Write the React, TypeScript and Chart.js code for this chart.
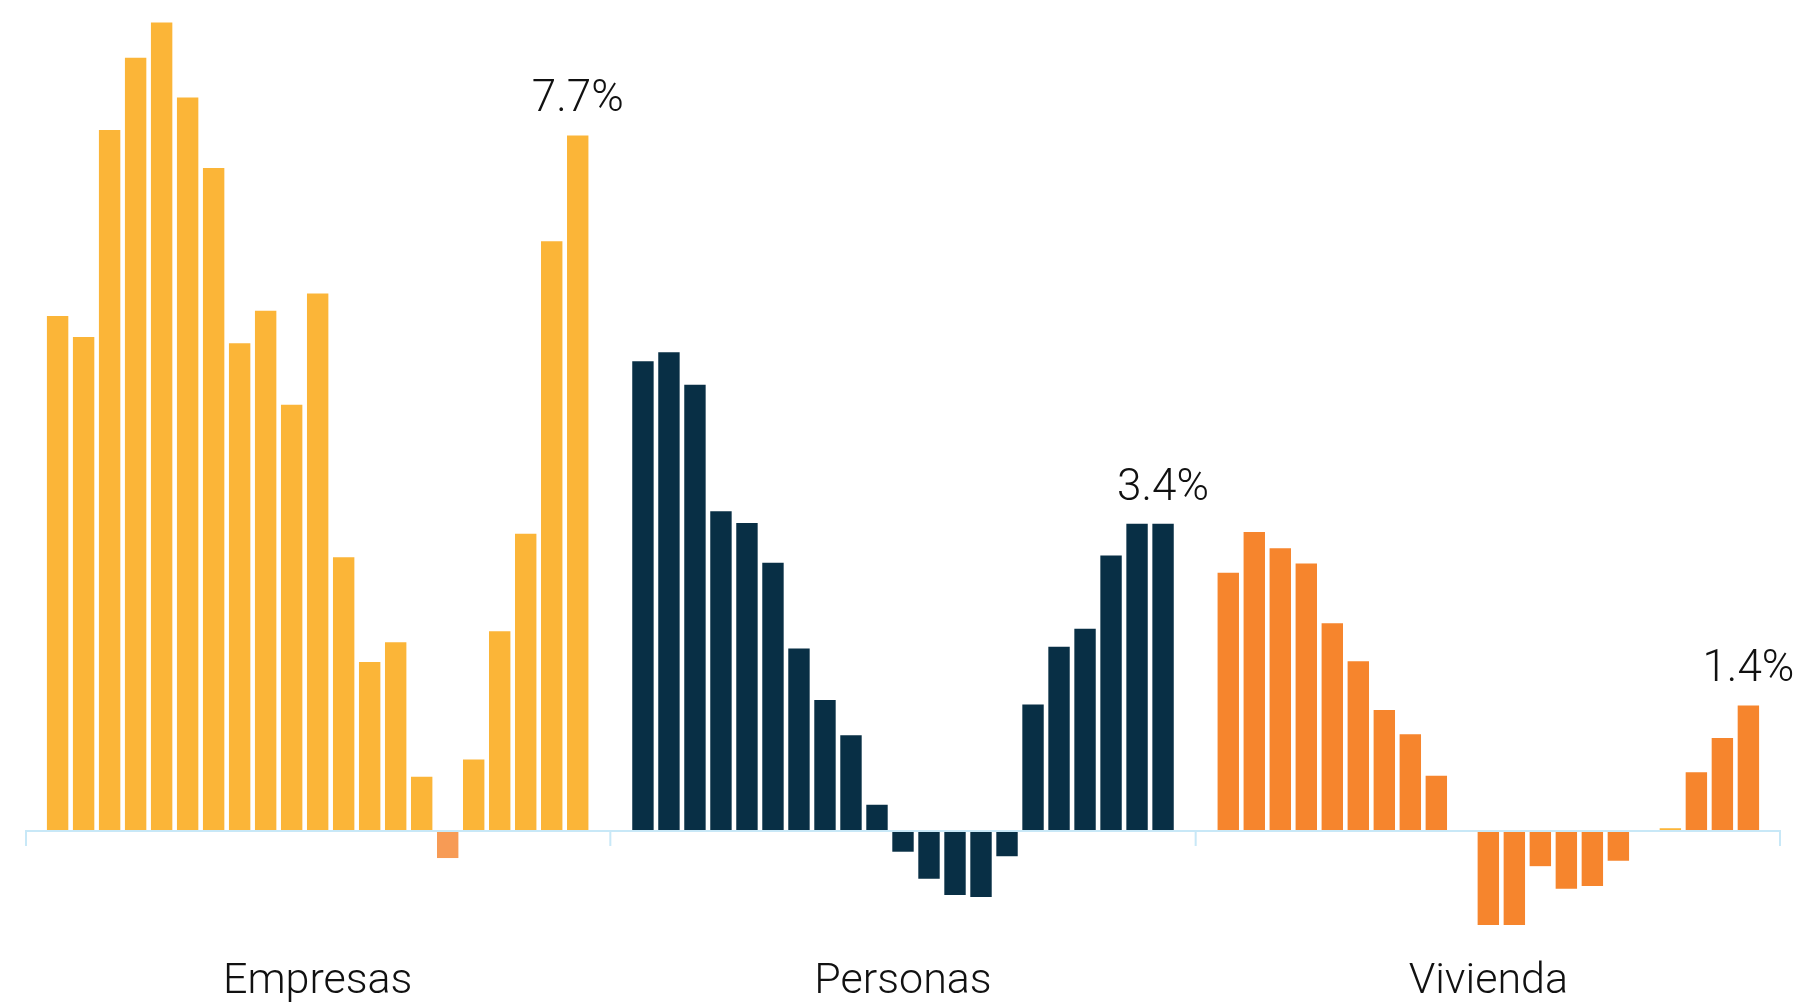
import React, { useEffect, useRef } from 'react';
import { Chart, registerables } from 'chart.js';

Chart.register(...registerables);

const categories = ['Empresas', 'Personas', 'Vivienda'];
const empresas = [5.7, 5.47, 7.76, 8.56, 8.95, 8.12, 7.34, 5.4, 5.76, 4.72, 5.95, 3.03, 1.87, 2.09, 0.6, -0.3, 0.79, 2.21, 3.29, 6.53, 7.7];
const personas = [5.2, 5.3, 4.94, 3.54, 3.41, 2.97, 2.02, 1.45, 1.06, 0.29, -0.23, -0.53, -0.71, -0.73, -0.28, 1.4, 2.04, 2.24, 3.05, 3.4, 3.4];
const vivienda = [2.86, 3.31, 3.13, 2.96, 2.3, 1.88, 1.34, 1.07, 0.61, 0, -1.04, -1.04, -0.39, -0.64, -0.61, -0.33, 0, 0.03, 0.65, 1.03, 1.39];
const endLabels = ['7.7%', '3.4%', '1.4%'];

const YELLOW = '#FBB538';
const NAVY = '#082F45';
const ORANGE = '#F6852D';
const LIGHT_ORANGE = '#F79B55';

const empresasColors = empresas.map((_, i) => (i === 15 ? LIGHT_ORANGE : YELLOW));
const personasColors = personas.map(() => NAVY);
const viviendaColors = vivienda.map((_, i) => (i === 17 ? YELLOW : ORANGE));

const FONT_FAMILY = 'Roboto, "Noto Sans", sans-serif';

const axisPlugin = {
  id: 'zeroAxis',
  afterDatasetsDraw(chart: any) {
    const { ctx, scales } = chart;
    const x = scales.x;
    const y = scales.y;
    const y0 = y.getPixelForValue(0);
    const half = (x.getPixelForValue(1) - x.getPixelForValue(0)) / 2;
    ctx.save();
    ctx.strokeStyle = '#C8E8F7';
    ctx.lineWidth = 2;
    ctx.beginPath();
    ctx.moveTo(x.left, y0);
    ctx.lineTo(x.right, y0);
    for (let i = 0; i <= categories.length; i++) {
      const bx = i < categories.length ? x.getPixelForValue(i) - half : x.getPixelForValue(categories.length - 1) + half;
      const px = Math.min(Math.max(bx, x.left + 1), x.right - 1);
      ctx.moveTo(px, y0);
      ctx.lineTo(px, y0 + 15);
    }
    ctx.stroke();

    ctx.fillStyle = '#111111';
    ctx.textAlign = 'center';
    ctx.textBaseline = 'alphabetic';

    // category labels below the axis
    ctx.font = `300 43px ${FONT_FAMILY}`;
    categories.forEach((c, i) => {
      ctx.fillText(c, x.getPixelForValue(i), y0 + 162);
    });

    // end labels above the last bar of each group
    const meta = chart.getDatasetMeta(chart.data.datasets.length - 1);
    ctx.font = `300 44px ${FONT_FAMILY}`;
    meta.data.forEach((el: any, i: number) => {
      ctx.fillText(endLabels[i], el.x, el.y - 24);
    });
    ctx.restore();
  },
};

export default function App() {
  const ref = useRef<HTMLCanvasElement>(null);
  useEffect(() => {
    if (!ref.current) return;
    const datasets = empresas.map((_, i) => ({
      label: `S${i + 1}`,
      data: [empresas[i], personas[i], vivienda[i]],
      backgroundColor: [empresasColors[i], personasColors[i], viviendaColors[i]],
      borderWidth: 0,
      categoryPercentage: 0.933,
      barPercentage: 0.823,
    }));
    const chart = new Chart(ref.current, {
      type: 'bar',
      data: { labels: categories, datasets },
      options: {
        responsive: true,
        maintainAspectRatio: false,
        animation: false,
        layout: { padding: { left: 25, right: 12, top: 0, bottom: 0 } },
        plugins: { legend: { display: false }, tooltip: { enabled: false } },
        scales: {
          x: { display: false },
          y: { display: false, min: -1.916, max: 9.2 },
        },
      },
      plugins: [axisPlugin],
    });
    return () => chart.destroy();
  }, []);
  return (
    <div style={{ position: 'fixed', left: 0, top: 0, width: 1793, height: 1004, background: '#ffffff' }}>
      <canvas ref={ref} />
    </div>
  );
}
